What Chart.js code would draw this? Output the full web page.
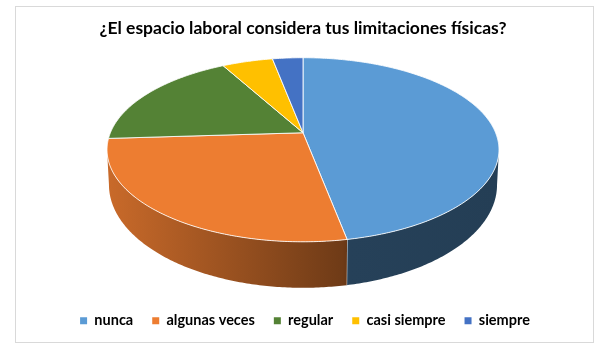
<!DOCTYPE html>
<html>
<head>
<meta charset="utf-8">
<script src="https://cdn.jsdelivr.net/npm/chart.js@4"></script>
<style>
    body { margin: 0; background: #fff; }
    #frame { position: absolute; left: 15px; top: 6px; width: 577px; height: 335px; border: 1.5px solid #d9d9d9; }
    canvas { display: block; }
</style>
</head>
<body>
<div id="frame"><canvas id="myChart" width="577" height="335"></canvas></div>
<script>
// Data (percent)
const labels = ['nunca', 'algunas veces', 'regular', 'casi siempre', 'siempre'];
const values = [47, 27, 18, 5, 3];

// The 3D look: a circle seen in perspective, top rim and bottom rim
const tilt = 0.1847;
const topRim = { sx: 1.926, sy: 0.889, dy: 0 };
const bottomRim = { sx: 1.907, sy: 0.995, dy: 33 };
const pieOffsetY = -39;

function rimPoint(arc, rim, angle) {
    // chart.js angle: 0 is to the right, goes clockwise
    const u = Math.cos(angle);
    const v = Math.sin(angle);
    const w = 1 - tilt * v;
    return {
        x: arc.x + rim.sx * arc.outerRadius * u / w,
        y: arc.y + pieOffsetY + rim.dy + rim.sy * arc.outerRadius * v / w
    };
}

function rimPath(ctx, arc, rim, from, to) {
    const steps = Math.max(2, Math.ceil(Math.abs(to - from) * 90));
    for (let i = 0; i <= steps; i++) {
        const p = rimPoint(arc, rim, from + (to - from) * i / steps);
        ctx.lineTo(p.x, p.y);
    }
}

function shade(hex, f) {
    const n = parseInt(hex.slice(1), 16);
    return `rgb(${(n >> 16) * f}, ${((n >> 8) & 255) * f}, ${(n & 255) * f})`;
}

const pie3d = {
    id: 'pie3d',
    afterLayout(chart) {
        // legend sits a bit right of the title in the original
        chart.legend.left += 2;
        chart.legend.right += 2;
    },
    beforeDatasetDraw(chart) {
        const ctx = chart.ctx;
        const arcs = chart.getDatasetMeta(0).data;
        const first = arcs[0];
        const colors = chart.data.datasets[0].backgroundColor;
        // the side wall is visible between the two silhouette points of the rim
        const sideFrom = Math.asin(tilt);
        const sideTo = Math.PI - sideFrom;
        const left = rimPoint(first, topRim, Math.PI - sideFrom).x;
        const right = rimPoint(first, topRim, sideFrom).x;

        arcs.forEach((arc, i) => {
            const a = Math.max(arc.startAngle, sideFrom);
            const b = Math.min(arc.endAngle, sideTo);
            if (b <= a) return;
            const grad = ctx.createLinearGradient(left, 0, right, 0);
            grad.addColorStop(0, shade(colors[i], 0.85));
            grad.addColorStop(0.6, shade(colors[i], 0.47));
            grad.addColorStop(0.62, shade(colors[i], 0.42));
            grad.addColorStop(1, shade(colors[i], 0.4));
            ctx.beginPath();
            rimPath(ctx, arc, topRim, a, b);
            rimPath(ctx, arc, bottomRim, b, a);
            ctx.closePath();
            ctx.fillStyle = grad;
            ctx.fill();
            // seam between two slices on the wall
            if (arc.endAngle < sideTo) {
                const p = rimPoint(arc, topRim, b);
                const q = rimPoint(arc, bottomRim, b);
                ctx.beginPath();
                ctx.moveTo(p.x, p.y);
                ctx.lineTo(q.x, q.y);
                ctx.strokeStyle = '#e8e8e8';
                ctx.lineWidth = 1;
                ctx.stroke();
            }
        });

        arcs.forEach((arc, i) => {
            ctx.beginPath();
            const o = rimPoint({ x: arc.x, y: arc.y, outerRadius: 0 }, topRim, 0);
            ctx.moveTo(o.x, o.y);
            rimPath(ctx, arc, topRim, arc.startAngle, arc.endAngle);
            ctx.closePath();
            ctx.fillStyle = colors[i];
            ctx.fill();
            ctx.strokeStyle = 'rgba(255, 255, 255, 0.85)';
            ctx.lineWidth = 1;
            ctx.lineJoin = 'round';
            ctx.stroke();
        });
        return false;
    }
};

new Chart(document.getElementById('myChart').getContext('2d'), {
    type: 'pie',
    data: {
        labels: labels,
        datasets: [{
            data: values,
            backgroundColor: ['#5B9BD5', '#ED7D31', '#548235', '#FFC000', '#4472C4'],
            borderWidth: 0,
            radius: 100
        }]
    },
    options: {
        responsive: false,
        animation: false,
        layout: { padding: { bottom: 4, right: 3 } },
        plugins: {
            title: {
                display: true,
                text: '¿El espacio laboral considera tus limitaciones físicas?',
                color: '#000',
                font: { family: 'Lato', size: 17.5, weight: 'bold' },
                padding: { top: 11, bottom: 10 }
            },
            legend: {
                position: 'bottom',
                labels: {
                    color: '#000',
                    boxWidth: 7,
                    boxHeight: 7,
                    padding: 19,
                    font: { family: 'Lato', size: 14.5, weight: 'bold' }
                }
            },
            tooltip: { enabled: false }
        }
    },
    plugins: [pie3d]
});
</script>
</body>
</html>
